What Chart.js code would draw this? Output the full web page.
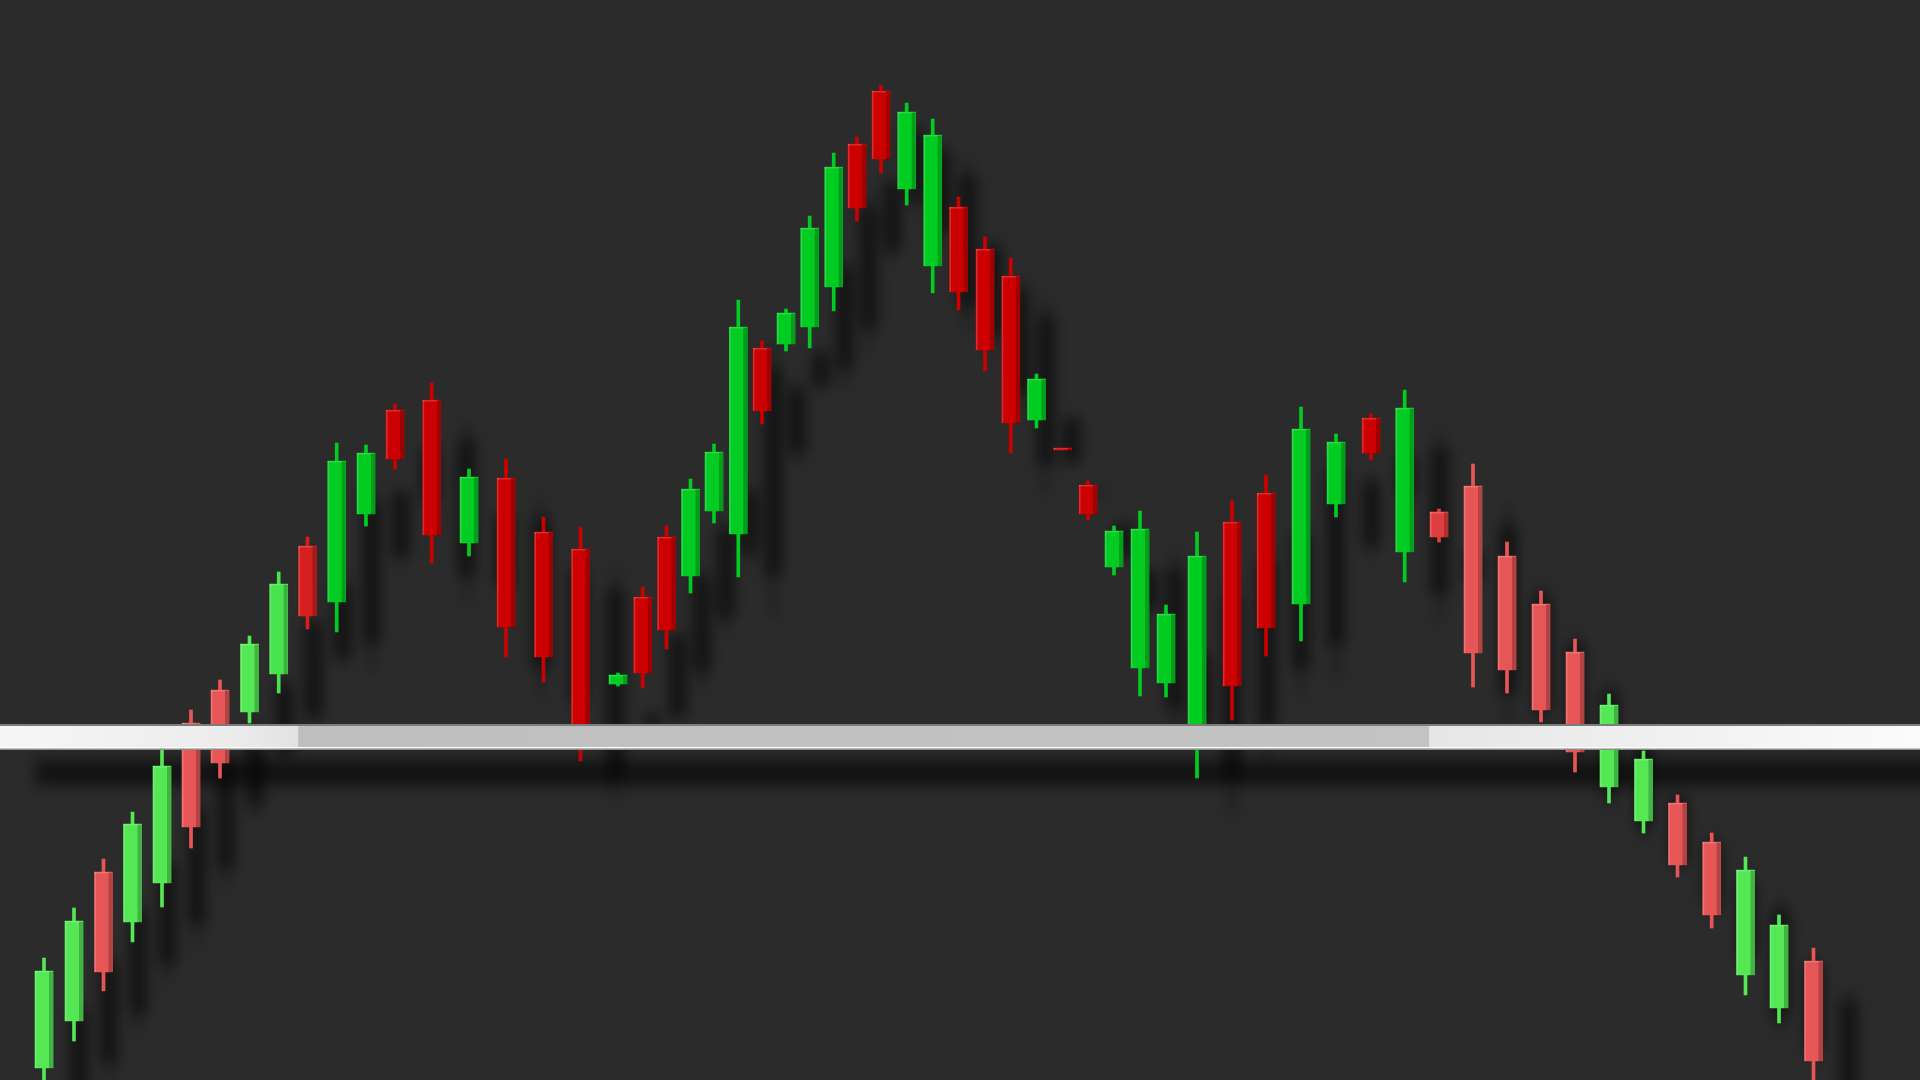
<!DOCTYPE html>
<html>
<head>
<meta charset="utf-8">
<title>Head and shoulders</title>
<script src="https://cdn.jsdelivr.net/npm/chart.js@4.4.1/dist/chart.umd.min.js"></script>
<style>
  html, body { margin: 0; padding: 0; background: #2b2b2b; overflow: hidden; }
  #wrap { width: 1920px; height: 1080px; }
</style>
</head>
<body>
<div id="wrap"><canvas id="hs"></canvas></div>
<script>
// session positions (irregular) and OHLC prices
const sessions = [4.4, 7.4, 10.35, 13.25, 16.2, 19.1, 22.0, 24.95, 27.87, 30.75,
  33.67, 36.6, 39.5, 43.17, 46.9, 50.6, 54.35, 58.05, 61.8, 64.27,
  66.65, 69.05, 71.4, 73.83, 76.2, 78.6, 80.97, 83.37, 85.7, 88.1,
  90.67, 93.27, 95.85, 98.5, 101.08, 103.65, 106.27, 108.8, 111.4, 114.0,
  116.6, 119.7, 123.2, 126.6, 130.1, 133.6, 137.1, 140.47, 143.9, 147.3,
  150.7, 154.1, 157.5, 160.9, 164.35, 167.75, 171.17, 174.55, 177.9, 181.35];
const opens = [1.2, 5.9, 20.8, 15.8, 19.7, 35.7, 39.0, 36.8, 40.6, 53.4,
  47.8, 56.6, 67.0, 68.0, 53.7, 60.2, 54.8, 53.1, 39.6, 48.3,
  54.3, 50.4, 56.9, 54.6, 73.2, 73.6, 75.3, 79.3, 93.6, 98.9,
  89.1, 81.4, 87.3, 83.1, 80.4, 66.0, 63.1, 59.5, 51.3, 41.2,
  39.7, 34.5, 55.8, 58.7, 47.6, 57.6, 66.2, 52.8, 56.8, 59.4,
  52.4, 47.6, 42.8, 29.3, 25.9, 27.7, 23.8, 10.5, 7.2, 11.9];
const highs = [12.2, 17.2, 22.1, 26.8, 33.2, 37.0, 40.0, 44.4, 50.8, 54.3,
  63.7, 63.5, 67.6, 69.7, 61.1, 62.1, 56.3, 55.3, 40.7, 49.3,
  55.4, 60.1, 63.6, 78.0, 73.9, 77.1, 86.4, 92.7, 94.3, 99.5,
  97.7, 96.1, 88.3, 84.3, 82.2, 70.6, 63.1, 59.9, 55.4, 56.9,
  47.5, 54.8, 57.9, 60.5, 67.3, 64.6, 66.6, 69.0, 57.1, 61.6,
  53.8, 48.9, 44.1, 38.6, 32.9, 28.5, 24.7, 22.3, 16.5, 13.2];
const lows = [-1.0, 3.9, 8.9, 13.8, 17.3, 23.2, 30.2, 35.7, 38.7, 45.1,
  44.8, 55.4, 61.1, 51.7, 52.4, 42.3, 39.8, 31.9, 39.4, 39.2,
  43.1, 48.7, 55.7, 50.3, 65.6, 72.9, 73.2, 76.9, 85.9, 90.7,
  87.5, 78.7, 77.0, 70.9, 62.7, 65.2, 63.0, 56.0, 50.5, 38.4,
  38.3, 30.2, 36.0, 42.4, 43.9, 56.3, 62.0, 49.8, 53.8, 39.3,
  38.7, 35.8, 30.8, 27.7, 24.7, 20.3, 15.2, 8.5, 5.7, -1.5];
const closes = [10.9, 15.9, 10.8, 25.6, 31.4, 25.3, 31.7, 43.6, 49.6, 46.4,
  61.9, 62.7, 62.1, 54.5, 60.3, 45.3, 42.3, 34.5, 40.5, 40.7,
  45.0, 59.1, 62.8, 75.3, 66.9, 76.7, 85.2, 91.3, 87.2, 92.1,
  96.8, 94.5, 78.8, 73.0, 65.7, 70.1, 63.0, 56.6, 54.9, 55.1,
  46.6, 52.4, 39.4, 45.2, 65.1, 63.8, 62.7, 67.2, 54.3, 42.7,
  41.0, 37.0, 32.8, 37.5, 32.1, 21.5, 16.5, 21.0, 15.5, 1.9];
const neckline = 34.3;
const xRange = [0, 192];
const yRange = [0, 108];

const SH_DX = 35, SH_DY = 40;
const NECK_W = 26;

function lightMix(x) {
  if (x < 33) return Math.min(1, (33 - x) / 6);
  if (x > 141) return Math.min(1, (x - 141) / 4);
  return 0;
}

function mix(a, b, f) {
  return "rgb(" + a.map((v, k) => Math.round(v + (b[k] - v) * f)).join(",") + ")";
}

const candleColors = sessions.map((x, i) => {
  const up = closes[i] >= opens[i];
  const f = lightMix(x);
  return up ? mix([0, 204, 34], [84, 232, 84], f) : mix([204, 0, 0], [230, 86, 86], f);
});

const shadowPlugin = {
  id: "backShadow",
  beforeDatasetsDraw(chart) {
    const ctx = chart.ctx;
    const wicks = chart.getDatasetMeta(0).data;
    const bodies = chart.getDatasetMeta(1).data;
    const neck = chart.getDatasetMeta(2).data;
    ctx.save();
    ctx.filter = "blur(7px)";
    ctx.fillStyle = "rgba(0,0,0,0.48)";
    bodies.forEach((b, i) => {
      const w = wicks[i];
      ctx.fillRect(b.x - b.width / 2 + SH_DX, Math.min(b.y, b.base) + SH_DY, b.width, Math.abs(b.base - b.y) + 2);
      ctx.fillRect(w.x - 2 + SH_DX, Math.min(w.y, w.base) + SH_DY, 4, Math.abs(w.base - w.y));
    });
    ctx.fillStyle = "rgba(0,0,0,0.55)";
    const ny = neck[0].y;
    ctx.fillRect(neck[0].x + SH_DX, ny - NECK_W / 2 + SH_DY - 4, neck[1].x - neck[0].x + 40, NECK_W);
    ctx.restore();
  },
  afterDatasetDraw(chart, args) {
    if (args.index !== 1) return;
    const ctx = chart.ctx;
    ctx.save();
    chart.getDatasetMeta(1).data.forEach((b) => {
      const top = Math.min(b.y, b.base);
      const h = Math.abs(b.base - b.y);
      ctx.fillStyle = "rgba(0,0,0,0.22)";
      ctx.fillRect(b.x + b.width / 2 - 4, top + 1, 4, h);
      ctx.fillStyle = "rgba(255,255,255,0.18)";
      ctx.fillRect(b.x - b.width / 2, top, 1.5, h);
      ctx.fillRect(b.x - b.width / 2, top, b.width - 4, 1.5);
    });
    ctx.restore();
  },
  afterDatasetsDraw(chart) {
    const ctx = chart.ctx;
    const neck = chart.getDatasetMeta(2).data;
    const ny = neck[0].y;
    ctx.save();
    ctx.fillStyle = "#7c7c7c";
    ctx.fillRect(neck[0].x, ny - NECK_W / 2, neck[1].x - neck[0].x, 2);
    ctx.fillStyle = "#fdfdfd";
    ctx.fillRect(neck[0].x, ny + NECK_W / 2 - 3, neck[1].x - neck[0].x, 1.5);
    ctx.fillStyle = "#8e8e8e";
    ctx.fillRect(neck[0].x, ny + NECK_W / 2 - 1.5, neck[1].x - neck[0].x, 1.5);
    ctx.restore();
  }
};

function neckGradient(c) {
  const area = c.chart.chartArea;
  if (!area) return "#c0c0c0";
  const g = c.chart.ctx.createLinearGradient(area.left, 0, area.right, 0);
  g.addColorStop(0, "#f6f6f6");
  g.addColorStop(0.12, "#ececec");
  g.addColorStop(0.155, "#e2e2e2");
  g.addColorStop(0.1556, "#bfbfbf");
  g.addColorStop(0.744, "#c3c3c3");
  g.addColorStop(0.7446, "#e6e6e6");
  g.addColorStop(1, "#fbfbfb");
  return g;
}

const ctx = document.getElementById("hs").getContext("2d");
new Chart(ctx, {
  type: "bar",
  data: {
    datasets: [
      {
        label: "wicks",
        data: sessions.map((x, i) => ({ x: x, y: [lows[i], highs[i]] })),
        backgroundColor: candleColors,
        barThickness: 3,
        grouped: false,
        borderWidth: 0,
        order: 2,
      },
      {
        label: "bodies",
        data: sessions.map((x, i) => ({ x: x, y: [opens[i], closes[i]] })),
        backgroundColor: candleColors,
        barThickness: 18,
        grouped: false,
        minBarLength: 2,
        borderWidth: 0,
        order: 1,
      },
      {
        type: "line",
        label: "neckline",
        data: [{ x: xRange[0], y: neckline }, { x: xRange[1], y: neckline }],
        borderColor: neckGradient,
        borderWidth: NECK_W,
        borderCapStyle: "butt",
        pointRadius: 0,
        fill: false,
        order: 0,
      },
    ],
  },
  options: {
    responsive: true,
    maintainAspectRatio: false,
    animation: false,
    events: [],
    layout: { padding: 0 },
    plugins: { legend: { display: false }, tooltip: { enabled: false } },
    scales: {
      x: { type: "linear", display: false, offset: false, min: xRange[0], max: xRange[1] },
      y: { display: false, min: yRange[0], max: yRange[1] },
    },
  },
  plugins: [shadowPlugin],
});
</script>
</body>
</html>
